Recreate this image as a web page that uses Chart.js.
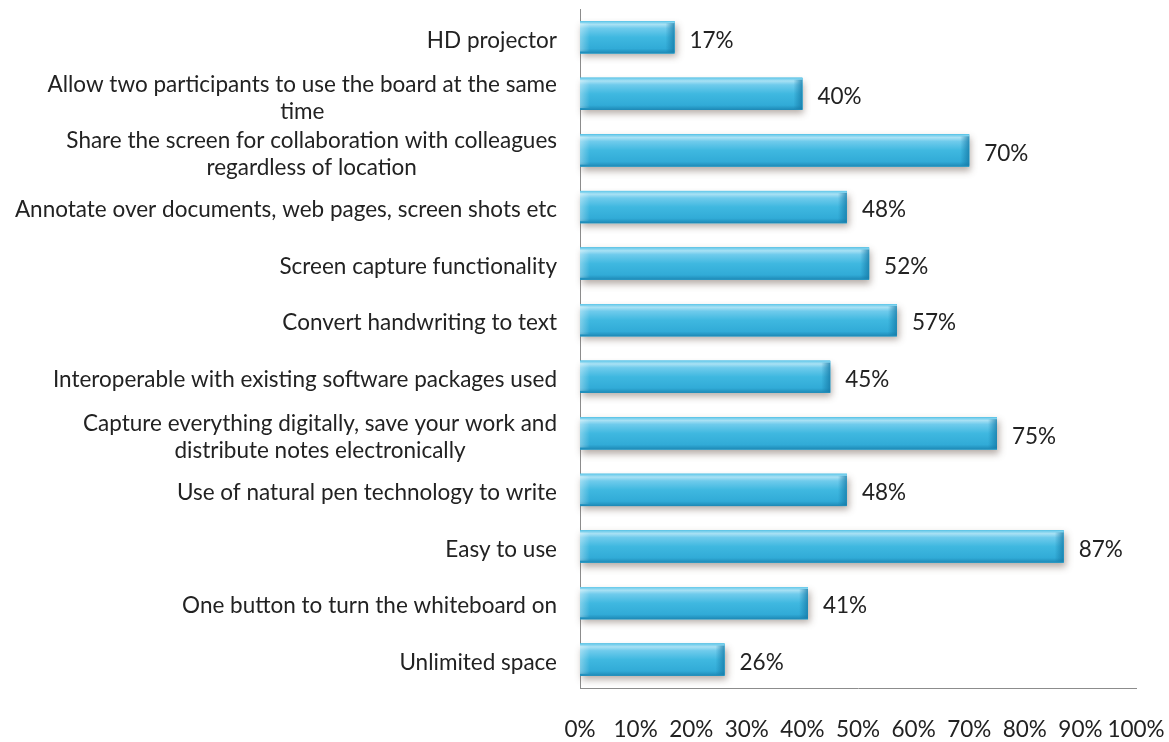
<!DOCTYPE html>
<html>
<head>
<meta charset="utf-8">
<script src="https://cdn.jsdelivr.net/npm/chart.js@4.4.1/dist/chart.umd.min.js"></script>
<style>
  html, body { margin: 0; padding: 0; background: #fff; }
  #wrap { width: 1169px; height: 742px; position: relative; }
</style>
</head>
<body>
<div id="wrap"><canvas id="featuresChart"></canvas></div>
<script>
// Features rated by respondents (share of respondents, %)
const features = [
  "HD projector",
  ["Allow two participants to use the board at the same", "time"],
  ["Share the screen for collaboration with colleagues", "regardless of location"],
  "Annotate over documents, web pages, screen shots etc",
  "Screen capture functionality",
  "Convert handwriting to text",
  "Interoperable with existing software packages used",
  ["Capture everything digitally, save your work and", "distribute notes electronically"],
  "Use of natural pen technology to write",
  "Easy to use",
  "One button to turn the whiteboard on",
  "Unlimited space",
];
const shares = [17, 40, 70, 48, 52, 57, 45, 75, 48, 87, 41, 26];
const xTicks = [0, 10, 20, 30, 40, 50, 60, 70, 80, 90, 100];

const FONT = "Lato, 'Open Sans', sans-serif";
const FONT_SIZE = 22.5;
const TEXT_COLOR = "#222222";

// shadow under bars, glossy overlay, value labels and category labels
const barDecor = {
  id: "barDecor",
  beforeDatasetsDraw(chart) {
    const ctx = chart.ctx;
    const meta = chart.getDatasetMeta(0);
    ctx.save();
    ctx.shadowColor = "rgba(90, 70, 60, 0.45)";
    ctx.shadowBlur = 7;
    ctx.shadowOffsetX = 2;
    ctx.shadowOffsetY = 4;
    ctx.fillStyle = "#3cb6de";
    meta.data.forEach((bar) => {
      const h = bar.height;
      ctx.fillRect(bar.base, bar.y - h / 2, bar.x - bar.base, h);
    });
    ctx.restore();
  },
  afterDatasetsDraw(chart) {
    const ctx = chart.ctx;
    const meta = chart.getDatasetMeta(0);
    ctx.save();
    meta.data.forEach((bar, i) => {
      const h = bar.height;
      const top = bar.y - h / 2;
      const w = bar.x - bar.base;

      const g = ctx.createLinearGradient(0, top, 0, top + h);
      g.addColorStop(0, "#62c8ea");
      g.addColorStop(0.1, "#a9e1f4");
      g.addColorStop(0.22, "#6fcbec");
      g.addColorStop(0.5, "#3fb8e0");
      g.addColorStop(0.85, "#31abd7");
      g.addColorStop(1, "#1d88b5");
      ctx.fillStyle = g;
      ctx.fillRect(bar.base, top, w, h);

      // darker bevel at the end of the bar
      const e = ctx.createLinearGradient(bar.x - 9, 0, bar.x, 0);
      e.addColorStop(0, "rgba(20, 120, 165, 0)");
      e.addColorStop(1, "rgba(20, 120, 165, 0.75)");
      ctx.fillStyle = e;
      ctx.fillRect(bar.x - 9, top + 2, 9, h - 3);

      // lighter bevel at the start
      const s = ctx.createLinearGradient(bar.base, 0, bar.base + 10, 0);
      s.addColorStop(0, "rgba(255, 255, 255, 0.35)");
      s.addColorStop(1, "rgba(255, 255, 255, 0)");
      ctx.fillStyle = s;
      ctx.fillRect(bar.base, top + 2, 10, h - 4);

      // value label
      ctx.fillStyle = TEXT_COLOR;
      ctx.font = FONT_SIZE + "px " + FONT;
      ctx.textAlign = "left";
      ctx.textBaseline = "middle";
      ctx.fillText(shares[i] + "%", bar.x + 15, bar.y + 3);
    });

    // category labels, lines centred inside a right-aligned block
    const yScale = chart.scales.y;
    const right = chart.chartArea.left - 23;
    const lineH = 27;
    ctx.font = FONT_SIZE + "px " + FONT;
    ctx.fillStyle = TEXT_COLOR;
    ctx.textBaseline = "middle";
    ctx.textAlign = "center";
    features.forEach((label, i) => {
      const lines = Array.isArray(label) ? label : [label];
      const widest = Math.max(...lines.map((l) => ctx.measureText(l).width));
      const cx = right - widest / 2;
      const cy = yScale.getPixelForValue(i) + (lines.length > 1 ? 4 : 3);
      lines.forEach((l, k) => {
        const y = cy + (k - (lines.length - 1) / 2) * lineH;
        ctx.fillText(l, cx, y);
      });
    });
    ctx.restore();
  },
};

const ctx = document.getElementById("featuresChart");

new Chart(ctx, {
  type: "bar",
  data: {
    labels: features,
    datasets: [
      {
        data: shares,
        backgroundColor: "#3cb6de",
        borderWidth: 0,
        categoryPercentage: 0.57,
        barPercentage: 1,
      },
    ],
  },
  options: {
    indexAxis: "y",
    responsive: true,
    maintainAspectRatio: false,
    animation: false,
    layout: {
      padding: { left: 580, right: 33, top: 9, bottom: 0 },
    },
    plugins: {
      legend: { display: false },
      tooltip: { enabled: false },
    },
    scales: {
      x: {
        min: 0,
        max: 100,
        afterBuildTicks: (scale) => {
          scale.ticks = xTicks.map((v) => ({ value: v }));
        },
        afterFit: (scale) => {
          scale.height = 54;
          // the layout padding already leaves room for the end labels
          scale.paddingLeft = 0;
          scale.paddingRight = 0;
        },
        grid: { display: false, drawTicks: false },
        border: { display: true, color: "#8c8c8c", width: 1 },
        ticks: {
          padding: 28,
          maxRotation: 0,
          autoSkip: false,
          color: TEXT_COLOR,
          font: { family: FONT, size: FONT_SIZE },
          callback: (v) => v + "%",
        },
      },
      y: {
        afterFit: (scale) => {
          scale.width = 0;
        },
        grid: { display: false, drawTicks: false },
        border: { display: true, color: "#8c8c8c", width: 1 },
        ticks: { display: false },
      },
    },
  },
  plugins: [barDecor],
});
</script>
</body>
</html>
